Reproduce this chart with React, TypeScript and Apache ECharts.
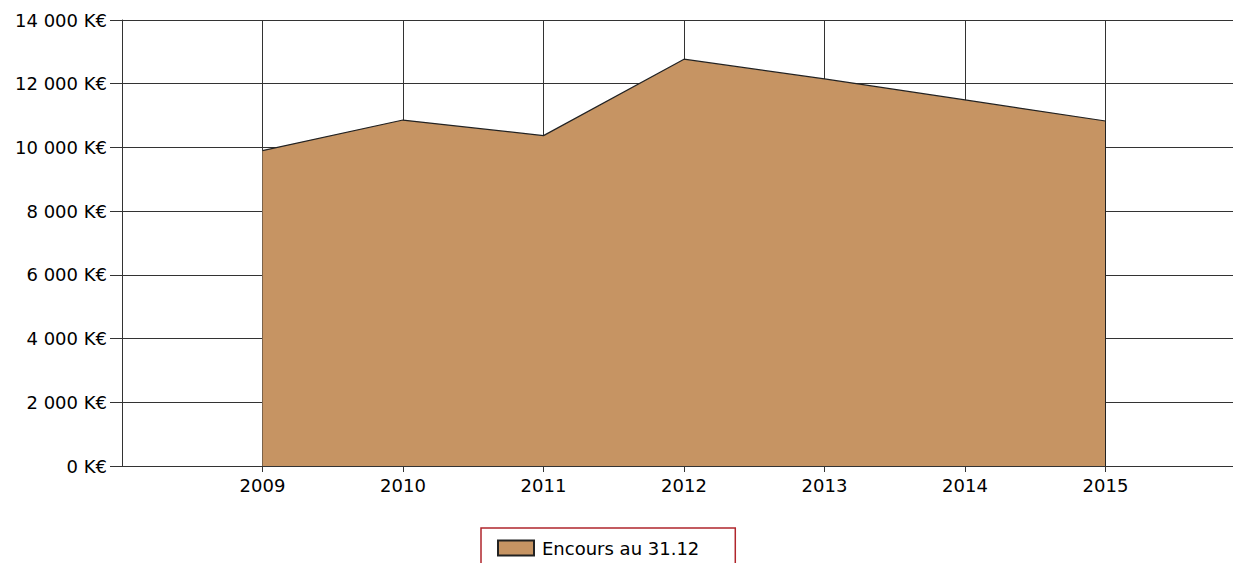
import React, { useEffect, useRef } from "react";
import * as echarts from "echarts";

const categories = ["", "2009", "2010", "2011", "2012", "2013", "2014", "2015", ""];
const encours = [null, 9900, 10860, 10370, 12770, 12150, 11490, 10830, null];
const seriesName = "Encours au 31.12";
const yTicks = [0, 2000, 4000, 6000, 8000, 10000, 12000, 14000];

const fmt = (v: number) => {
  const s = String(Math.round(v));
  return s.replace(/\B(?=(\d{3})+(?!\d))/g, " ") + " K€";
};

export default function App() {
  const ref = useRef<HTMLDivElement>(null);
  useEffect(() => {
    if (!ref.current) return;
    const chart = echarts.init(ref.current, null, { renderer: "svg" });
    const font = "DejaVu Sans, Verdana, sans-serif";
    const lastIdx = encours.length - 2;
    chart.setOption({
      animation: false,
      grid: { left: 114, top: 12, width: 1124, height: 446 },
      legend: {
        data: [seriesName],
        left: 473,
        top: 520,
        padding: [11, 36, 12, 16],
        borderColor: "#b0262c",
        borderWidth: 1.5,
        itemWidth: 36,
        itemHeight: 15,
        icon: "rect",
        textStyle: { fontFamily: font, fontSize: 18, color: "#000", padding: [0, 0, 0, 3] },
      },
      xAxis: {
        type: "category",
        data: categories,
        boundaryGap: false,
        axisLine: { lineStyle: { color: "#333", width: 1 } },
        axisTick: {
          length: 6,
          interval: (i: number) => i > 0 && i < categories.length - 1,
          lineStyle: { color: "#333" },
        },
        axisLabel: { fontFamily: font, fontSize: 18, color: "#000", margin: 10, interval: 0 },
        splitLine: {
          show: true,
          interval: (i: number) => i > 0 && i < categories.length - 1,
          lineStyle: { color: "#333", width: 1 },
        },
      },
      yAxis: {
        type: "value",
        min: yTicks[0],
        max: yTicks[yTicks.length - 1],
        interval: 2000,
        axisLine: { show: true, lineStyle: { color: "#333", width: 1 } },
        axisTick: { show: true, length: 12, lineStyle: { color: "#333" } },
        axisLabel: { fontFamily: font, fontSize: 18, color: "#000", margin: 15, formatter: fmt },
        splitLine: { show: true, lineStyle: { color: "#333", width: 1 } },
      },
      series: [
        {
          name: seriesName,
          type: "line",
          data: encours,
          symbol: "none",
          lineStyle: { color: "#222", width: 1.2 },
          itemStyle: { color: "#c69463", borderColor: "#222", borderWidth: 1 },
          areaStyle: { color: "#c69463", opacity: 1 },
          markLine: {
            silent: true,
            symbol: "none",
            label: { show: false },
            lineStyle: { color: "#222", width: 1, type: "solid" },
            data: [[
              { coord: [categories[lastIdx], 0] },
              { coord: [categories[lastIdx], encours[lastIdx]] },
            ]],
          },
        },
      ],
    });
    return () => chart.dispose();
  }, []);
  return (
    <div style={{ position: "fixed", left: 0, top: 0, width: 1233, height: 563, overflow: "hidden", background: "#fff" }}>
      <div ref={ref} style={{ position: "absolute", left: 8, top: 8, width: 1260, height: 575 }} />
    </div>
  );
}
